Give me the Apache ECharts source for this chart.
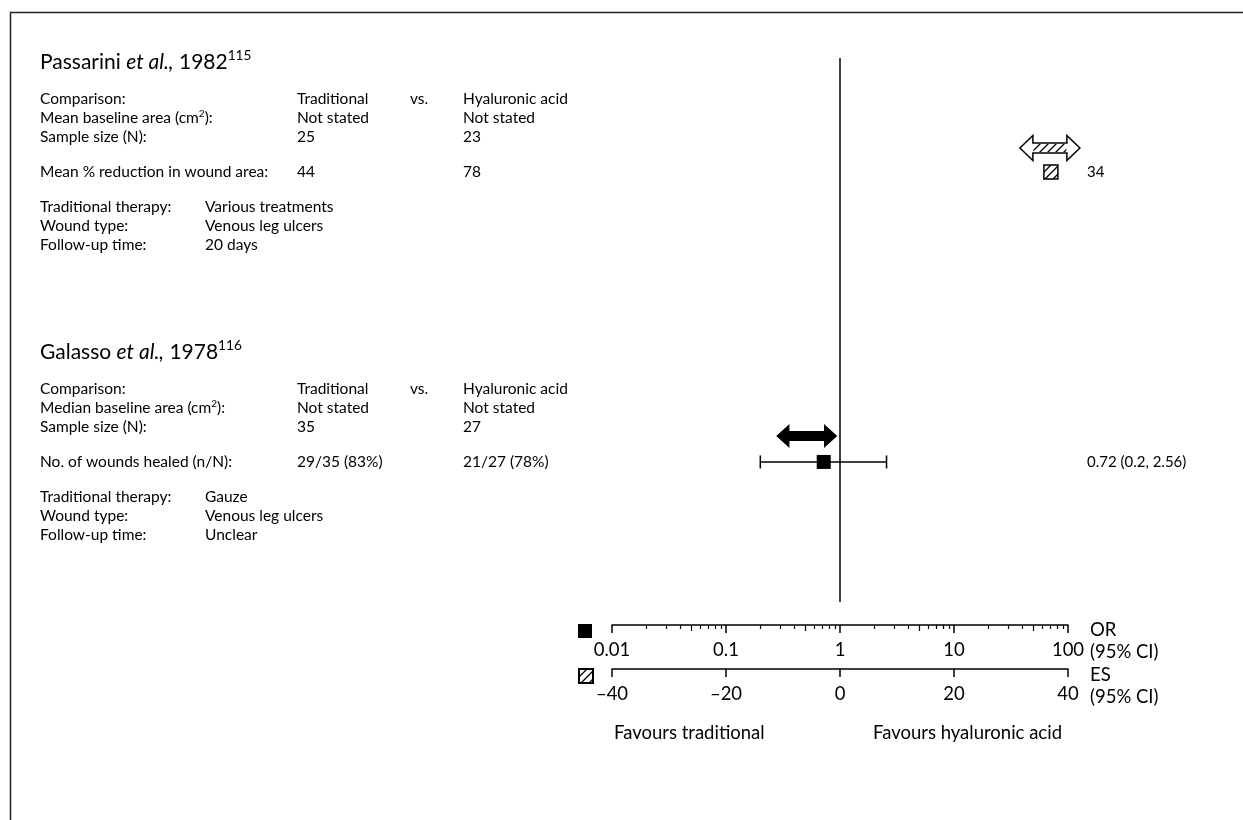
<!DOCTYPE html>
<html>
<head>
<meta charset="utf-8">
<script src="https://cdn.jsdelivr.net/npm/echarts@6/dist/echarts.min.js"></script>
<style>
html, body { margin: 0; padding: 0; background: #fff; }
#forest { width: 1243px; height: 820px; }
</style>
</head>
<body>
<div id="forest"></div>
<script>
// ---- data ----
const studyRow = [1, 2];            // Passarini, Galasso
// Passarini: effect size, mean % reduction
const esValue = [37];
const esLabel = ['34'];
// Galasso: odds ratio (95% CI)
const orValue = [0.72];
const orLow = [0.2];
const orHigh = [2.56];
const orLabel = ['0.72 (0.2, 2.56)'];

const orTicks = [0.01, 0.1, 1, 10, 100];
const orTickLabels = ['0.01', '0.1', '1', '10', '100'];
const orMidTicks = [0.05, 0.5, 5, 50];
const orMinorTicks = [0.02, 0.03, 0.04, 0.06, 0.07, 0.08, 0.09,
  0.2, 0.3, 0.4, 0.6, 0.7, 0.8, 0.9,
  2, 3, 4, 6, 7, 8, 9,
  20, 30, 40, 60, 70, 80, 90];
const esTicks = [-40, -20, 0, 20, 40];
const esTickLabels = ['–40', '–20', '0', '20', '40'];

const passariniTable = [
  ['Comparison:', 'Traditional', 'vs.', 'Hyaluronic acid'],
  ['Mean baseline area (cm{sup|2}):', 'Not stated', '', 'Not stated'],
  ['Sample size (N):', '25', '', '23'],
  ['Mean % reduction in wound area:', '44', '', '78']
];
const passariniInfo = [
  ['Traditional therapy:', 'Various treatments'],
  ['Wound type:', 'Venous leg ulcers'],
  ['Follow-up time:', '20 days']
];
const galassoTable = [
  ['Comparison:', 'Traditional', 'vs.', 'Hyaluronic acid'],
  ['Median baseline area (cm{sup|2}):', 'Not stated', '', 'Not stated'],
  ['Sample size (N):', '35', '', '27'],
  ['No. of wounds healed (n/N):', '29/35 (83%)', '', '21/27 (78%)']
];
const galassoInfo = [
  ['Traditional therapy:', 'Gauze'],
  ['Wound type:', 'Venous leg ulcers'],
  ['Follow-up time:', 'Unclear']
];

// ---- helpers ----
const FONT = 'Lato, "Noto Sans", sans-serif';

function hatchPattern () {
  const c = document.createElement('canvas');
  c.width = 8; c.height = 8;
  const g = c.getContext('2d');
  g.fillStyle = '#fff';
  g.fillRect(0, 0, 8, 8);
  g.strokeStyle = '#000';
  g.lineWidth = 1.3;
  g.beginPath();
  g.moveTo(-1, 9); g.lineTo(9, -1);
  g.moveTo(-1, 1); g.lineTo(1, -1);
  g.moveTo(7, 9); g.lineTo(9, 7);
  g.stroke();
  return { image: c, repeat: 'repeat' };
}
const hatch = hatchPattern();

function txt (x, y, text, size, extra) {
  return {
    type: 'text',
    x: x,
    y: y,
    silent: true,
    style: Object.assign({
      text: text,
      fill: '#000',
      fontSize: size,
      fontFamily: FONT,
      verticalAlign: 'middle',
      align: 'left',
      rich: {
        sup: { fontSize: size * 0.65, fontFamily: FONT, lineHeight: size * 0.65, verticalAlign: 'top', fill: '#000' },
        i: { fontSize: size, fontFamily: FONT, fontStyle: 'italic', fill: '#000' }
      },
      lineHeight: size * 1.25
    }, extra || {})
  };
}

function studyBlock (top, title, table, info) {
  const out = [txt(40, top, title, 21)];
  const rowY = [top + 37, top + 56, top + 75, top + 110];
  table.forEach((r, i) => {
    out.push(txt(40, rowY[i], r[0], 15.5));
    out.push(txt(297, rowY[i], r[1], 15.5));
    if (r[2]) out.push(txt(410, rowY[i], r[2], 15.5));
    out.push(txt(463, rowY[i], r[3], 15.5));
  });
  info.forEach((r, i) => {
    const y = top + 145 + i * 19;
    out.push(txt(40, y, r[0], 15.5));
    out.push(txt(205, y, r[1], 15.5));
  });
  return out;
}

const graphics = [
  { type: 'rect', silent: true, shape: { x: 10.5, y: 12.5, width: 1400, height: 1000 },
    style: { fill: 'none', stroke: '#222', lineWidth: 1.5 } }
]
  .concat(studyBlock(62, 'Passarini {i|et al.,} 1982{sup|115}', passariniTable, passariniInfo))
  .concat(studyBlock(352, 'Galasso {i|et al.,} 1978{sup|116}', galassoTable, galassoInfo))
  .concat([
    txt(1087, 172, esLabel[0], 15),
    txt(1087, 462, orLabel[0], 15),
    txt(1090, 630, 'OR', 18.5),
    txt(1090, 652, '(95% CI)', 18.5),
    txt(1090, 675, 'ES', 18.5),
    txt(1090, 697, '(95% CI)', 18.5),
    txt(614, 733, 'Favours traditional', 18.5),
    txt(873, 733, 'Favours hyaluronic acid', 18.5)
  ]);

const arrowPath = 'path://M0,12L13,0L13,7L47,7L47,0L60,12L47,24L47,17L13,17L13,24Z';

// double-headed block arrow centred on (cx, cy)
function arrowPoints (cx, cy, w, h, head, shaft) {
  const l = cx - w / 2, r = cx + w / 2;
  const t = cy - h / 2, b = cy + h / 2;
  const st = cy - shaft / 2, sb = cy + shaft / 2;
  return [[l, cy], [l + head, t], [l + head, st], [r - head, st], [r - head, t],
    [r, cy], [r - head, b], [r - head, sb], [l + head, sb], [l + head, b]];
}

function findLabel (ticks, labels, v) {
  for (let i = 0; i < ticks.length; i++) {
    if (Math.abs(ticks[i] - v) <= Math.abs(ticks[i]) * 1e-6 + 1e-9) return labels[i];
  }
  return '';
}

const axisBase = {
  position: 'bottom',
  axisLine: { onZero: false, lineStyle: { color: '#000', width: 1.5 } },
  axisTick: { length: 8, lineStyle: { color: '#000', width: 1.5 } },
  splitLine: { show: false },
  axisLabel: { color: '#000', fontSize: 18.5, fontFamily: FONT, margin: 16 }
};

const option = {
  animation: false,
  backgroundColor: '#fff',
  textStyle: { fontFamily: FONT },
  grid: { left: 612, right: 175, top: 58, bottom: 218, containLabel: false },
  legend: [
    { data: ['Odds ratio'], left: 578, top: 624, padding: 0, itemWidth: 14, itemHeight: 14,
      selectedMode: false, formatter: () => '', icon: 'rect' },
    { data: ['Effect size'], left: 578, top: 668, padding: 0, itemWidth: 14, itemHeight: 14,
      selectedMode: false, formatter: () => '', icon: 'rect' }
  ],
  xAxis: [
    Object.assign({}, axisBase, {
      type: 'log', logBase: 10, min: 0.01, max: 100, offset: 23,
      axisLabel: Object.assign({}, axisBase.axisLabel, {
        formatter: v => findLabel(orTicks, orTickLabels, v)
      })
    }),
    Object.assign({}, axisBase, {
      type: 'value', min: -40, max: 40, interval: 20, offset: 67,
      axisLabel: Object.assign({}, axisBase.axisLabel, {
        formatter: v => findLabel(esTicks, esTickLabels, v)
      })
    }),
    {
      type: 'log', logBase: 10, min: 0.01, max: 100, offset: 23, position: 'bottom',
      axisLine: { show: false, onZero: false }, axisLabel: { show: false }, splitLine: { show: false },
      axisTick: { show: true, customValues: orMinorTicks, length: 4, lineStyle: { color: '#000', width: 1.2 } }
    },
    {
      type: 'log', logBase: 10, min: 0.01, max: 100, offset: 23, position: 'bottom',
      axisLine: { show: false, onZero: false }, axisLabel: { show: false }, splitLine: { show: false },
      axisTick: { show: true, customValues: orMidTicks, length: 6, lineStyle: { color: '#000', width: 1.2 } }
    }
  ],
  yAxis: { type: 'value', show: false, inverse: true, min: 0.607, max: 2.483 },
  series: [
    {
      name: 'Effect size',
      type: 'custom',
      xAxisIndex: 1,
      data: [[esValue[0], studyRow[0]]],
      encode: { x: 0, y: 1 },
      itemStyle: { color: hatch, borderColor: '#000', borderWidth: 1.5 },
      renderItem: function (params, api) {
        const p = api.coord([api.value(0), api.value(1)]);
        const ax = p[0] - 1, ay = p[1] - 24;
        return {
          type: 'group',
          children: [
            { type: 'polygon', shape: { points: arrowPoints(ax, ay, 60, 25, 13, 10) },
              style: { fill: '#fff', stroke: '#000', lineWidth: 1.5 } },
            { type: 'rect', shape: { x: ax - 16.5, y: ay - 4, width: 33, height: 8 },
              style: { fill: hatch } },
            { type: 'rect', shape: { x: p[0] - 7, y: p[1] - 7, width: 14, height: 14 },
              style: { fill: hatch, stroke: '#000', lineWidth: 1.5 } }
          ]
        };
      },
      z: 5,
      markLine: {
        silent: true,
        symbol: ['none', 'none'],
        label: { show: false },
        lineStyle: { color: '#000', width: 1.5, type: 'solid' },
        data: [{ xAxis: 0 }]
      }
    },
    {
      name: 'OR CI',
      type: 'custom',
      xAxisIndex: 0,
      data: [[orLow[0], orHigh[0], studyRow[1]]],
      encode: { x: [0, 1], y: 2 },
      renderItem: function (params, api) {
        const lo = api.coord([api.value(0), api.value(2)]);
        const hi = api.coord([api.value(1), api.value(2)]);
        const h = 6.5;
        const st = { stroke: '#000', lineWidth: 1.5 };
        return {
          type: 'group',
          children: [
            { type: 'line', shape: { x1: lo[0], y1: lo[1], x2: hi[0], y2: hi[1] }, style: st },
            { type: 'line', shape: { x1: lo[0], y1: lo[1] - h, x2: lo[0], y2: lo[1] + h }, style: st },
            { type: 'line', shape: { x1: hi[0], y1: hi[1] - h, x2: hi[0], y2: hi[1] + h }, style: st }
          ]
        };
      },
      z: 2
    },
    {
      name: 'Odds ratio',
      type: 'scatter',
      xAxisIndex: 0,
      data: [[orValue[0], studyRow[1]]],
      symbol: 'rect',
      symbolSize: 14,
      itemStyle: { color: '#000', opacity: 1 },
      z: 5
    },
    {
      name: 'OR arrow',
      type: 'scatter',
      xAxisIndex: 0,
      data: [[orValue[0], studyRow[1]]],
      symbol: arrowPath,
      symbolSize: [61, 24],
      symbolOffset: [-17, -26],
      itemStyle: { color: '#000', opacity: 1 },
      z: 4
    }
  ],
  graphic: graphics
};

const chart = echarts.init(document.getElementById('forest'));
chart.setOption(option);
window.onresize = chart.resize;
</script>
</body>
</html>
